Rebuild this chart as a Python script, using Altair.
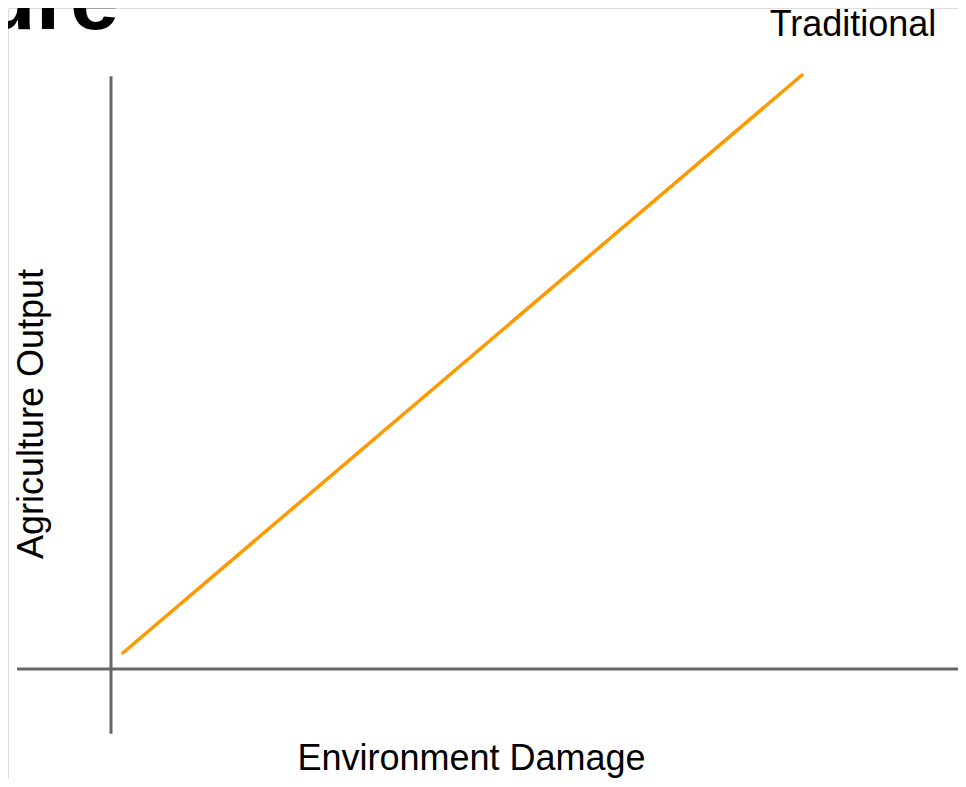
import altair as alt
import pandas as pd

# Data (in chart units: origin of the drawn axes at 0,0; line top at 100,100)
series_name = ["Traditional", "Traditional"]
damage = [1.7, 100]
output = [2.7, 100]

# Axis cross lines (chart units)
v_axis_x = [0, 0]
v_axis_y = [-10.9, 99.8]
h_axis_x = [-13.6, 124]
h_axis_y = [0, 0]

title_text = "Agriculture"
x_title = "Environment Damage"
y_title = "Agriculture Output"

ORANGE = "#FF9900"
GRAY = "#666666"
FONT = "Liberation Sans"

xs = alt.Scale(domain=[0, 100], range=[103, 794])
ys = alt.Scale(domain=[0, 100], range=[661, 67])

line_df = pd.DataFrame({"x": damage, "y": output, "s": series_name})
v_df = pd.DataFrame({"x": v_axis_x, "y": v_axis_y})
h_df = pd.DataFrame({"x": h_axis_x, "y": h_axis_y})

def axis_line(df):
    return alt.Chart(df).mark_line(color=GRAY, strokeWidth=3, strokeCap="butt").encode(
        x=alt.X("x:Q", scale=xs, axis=None),
        y=alt.Y("y:Q", scale=ys, axis=None),
    )

vline = axis_line(v_df)
hline = axis_line(h_df)

trad = alt.Chart(line_df).mark_line(color=ORANGE, strokeWidth=3.5, strokeCap="round").encode(
    x=alt.X("x:Q", scale=xs, axis=None),
    y=alt.Y("y:Q", scale=ys, axis=None),
)

def label(text, x, y, size, angle=0, bold=False, align="center"):
    kw = dict(text=text, fontSize=size, font=FONT, color="#000000", align=align,
              baseline="alphabetic", fontWeight="bold" if bold else "normal")
    if angle:
        kw["angle"] = angle
    return alt.Chart(pd.DataFrame({"t": [text]})).mark_text(**kw).encode(
        x=alt.value(x), y=alt.value(y)
    )

trad_label = label("Traditional", 845, 28, 36)
xt = label(x_title, 463.5, 762, 36)
yt = label(y_title, 35, 406, 36, angle=270)
big_title = label(title_text, 111, 21, 88, bold=True, align="right")

chart = alt.layer(hline, vline, trad, trad_label, xt, yt, big_title).properties(
    width=950, height=771,
    autosize=alt.AutoSizeParams(type="none"),
    padding=0,
).configure_view(stroke=None).configure(background="white")

chart.save("out.html", embed_options={"renderer": "svg", "actions": False})
